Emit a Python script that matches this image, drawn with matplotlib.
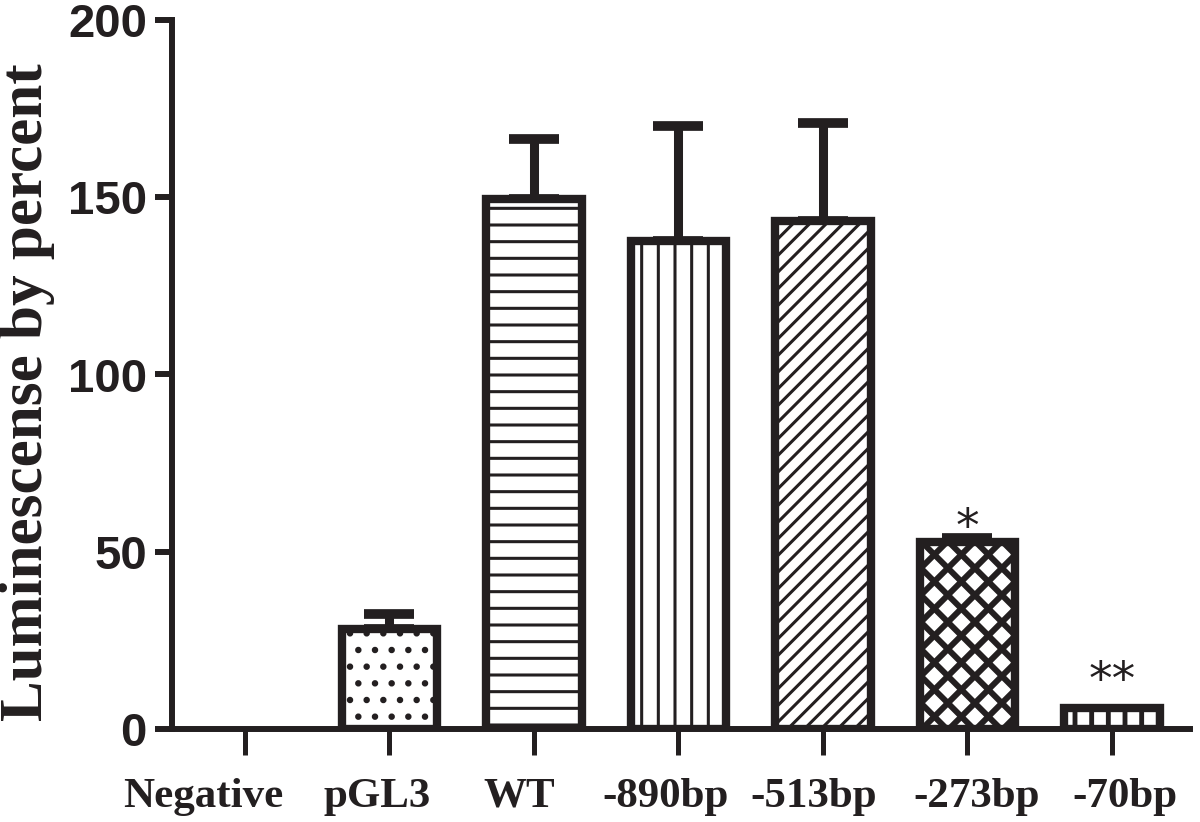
import numpy as np
import matplotlib
matplotlib.use("Agg")
from matplotlib import pyplot as plt
from matplotlib.lines import Line2D
from matplotlib.transforms import IdentityTransform, ScaledTranslation

# dados
GRUPOS = ['Negative', 'pGL3', 'WT', '-890bp', '-513bp', '-273bp', '-70bp']
VALORES = [0, 28.3, 149.6, 137.7, 143.3, 52.7, 6.0]
ERROS = [0, 4.0, 16.7, 32.3, 27.7, 1.1, 0]
SIGNIF = ['', '', '', '', '', '*', '**']
HACHURAS = [None, '.', '-', '|', '//', 'cross', '|']

COR = '#231f20'
# deslocamento horizontal (px) dos rotulos do eixo x, como no original
DESLOC_ROTULOS = [-42, -12, -15, -13, -9, 9, 13]

fig = plt.figure(figsize=(12, 8.22), dpi=100)
ax = fig.add_axes([172/1200, 1-729/822, (1190-172)/1200, (729-20)/822])

x = np.arange(len(GRUPOS))
largura = 0.66
barras = []
for i, (v, h) in enumerate(zip(VALORES, HACHURAS)):
    hlw = 2.2
    if i == 6:
        hlw = 3.5
    with plt.rc_context({'hatch.linewidth': hlw, 'hatch.color': COR}):
        b = ax.bar(x[i], v, width=largura, facecolor='white', edgecolor=COR,
                   linewidth=6 if v > 0 else 0,
                   hatch=(h if h not in (None, 'cross') else None), zorder=3)[0]
    barras.append(b)

# barras de erro (so para cima)
mask = np.array(ERROS) > 0
ax.errorbar(x[mask], np.array(VALORES)[mask],
            yerr=[np.zeros(mask.sum()), np.array(ERROS)[mask]],
            fmt='none', ecolor=COR, elinewidth=6.5, capsize=18, capthick=7, zorder=2)

ax.set_xlim(-0.505, 6.54)
ax.set_ylim(0, 200)

# hachura xadrez diagonal mais espacada (feita a mao, recortada na barra)
for i, h in enumerate(HACHURAS):
    if h != 'cross':
        continue
    b = barras[i]
    x0, y0 = ax.transData.transform((b.get_x(), 0))
    x1, y1 = ax.transData.transform((b.get_x() + b.get_width(), b.get_height()))
    passo = 27
    alt = y1 - y0
    for k in np.arange(-alt - passo, (x1 - x0) + alt + passo, passo):
        for sinal in (1, -1):
            if sinal == 1:
                xs = [x0 + k, x0 + k + alt]
            else:
                xs = [x0 + k + alt, x0 + k]
            ln = Line2D(xs, [y0, y1], color=COR, linewidth=4.3,
                        transform=IdentityTransform(), zorder=3.1)
            ax.add_line(ln)
            ln.set_clip_path(b.get_path(), b.get_transform())

for i, s in enumerate(SIGNIF):
    if s:
        off = -9 if len(s) == 1 else 3
        ax.annotate(s, (x[i], VALORES[i] + ERROS[i]), xytext=(0, off),
                    textcoords='offset points', ha='center', va='bottom',
                    fontsize=34, color=COR, family='DejaVu Sans')

for lado in ['top', 'right']:
    ax.spines[lado].set_visible(False)
for lado in ['left', 'bottom']:
    ax.spines[lado].set_linewidth(4.3)
    ax.spines[lado].set_color(COR)

ax.set_yticks([0, 50, 100, 150, 200])
ax.set_yticklabels(['0', '50', '100', '150', '200'], fontsize=34,
                   fontweight='bold', family='Liberation Sans', color=COR)
ax.set_xticks(x)
ax.set_xticklabels(GRUPOS, fontsize=31, fontweight='bold',
                   family='Liberation Serif', color=COR)
ax.tick_params(axis='x', length=19, width=3.6, pad=16, color=COR)
ax.tick_params(axis='y', length=12, width=4.3, pad=6, color=COR)

for rot, d in zip(ax.get_xticklabels(), DESLOC_ROTULOS):
    rot.set_transform(rot.get_transform() + ScaledTranslation(d/100, 0, fig.dpi_scale_trans))

fig.text(27/1200, 1-392/822, 'Luminescense by percent', rotation=90,
         ha='center', va='center', fontsize=44, fontweight='bold',
         family='Liberation Serif', color=COR)

fig.savefig('out.png', dpi=100)
